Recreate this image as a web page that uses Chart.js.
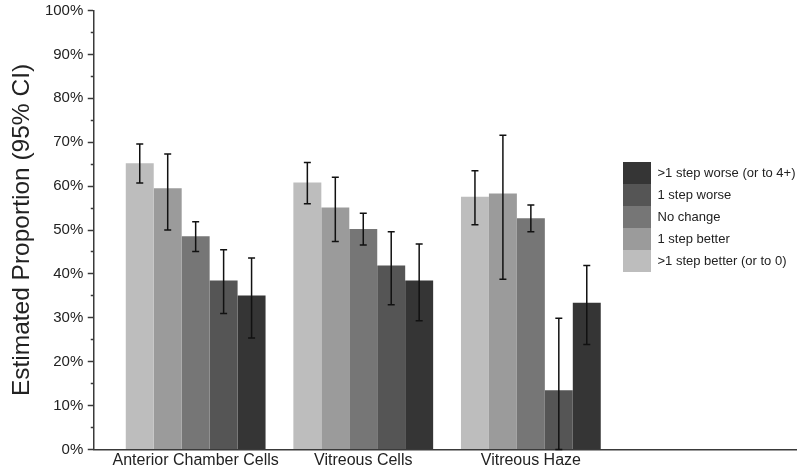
<!DOCTYPE html>
<html>
<head>
<meta charset="utf-8">
<script src="https://cdn.jsdelivr.net/npm/chart.js@4"></script>
<style>
  body { margin: 0; background: #fff; }
  #wrap { width: 800px; height: 468px; }
</style>
</head>
<body>
<div id="wrap"><canvas id="chart"></canvas></div>
<script>
// categories on the x axis
const categories = ['Anterior Chamber Cells', 'Vitreous Cells', 'Vitreous Haze'];

// series, lightest to darkest
const seriesNames = ['>1 step better (or to 0)', '1 step better', 'No change', '1 step worse', '>1 step worse (or to 4+)'];
const seriesColors = ['#bdbdbd', '#9b9b9b', '#767676', '#555555', '#353535'];

// estimated proportions (%)
const moreBetter = [65.2, 60.8, 57.6];
const oneBetter = [59.5, 55.1, 58.3];
const noChange = [48.6, 50.2, 52.7];
const oneWorse = [38.5, 41.9, 13.5];
const moreWorse = [35.1, 38.5, 33.4];

// 95% CI lower / upper
const moreBetterLo = [60.7, 56.0, 51.2];
const moreBetterHi = [69.6, 65.4, 63.5];
const oneBetterLo = [50.0, 47.4, 38.8];
const oneBetterHi = [67.3, 62.0, 71.6];
const noChangeLo = [45.1, 46.6, 49.6];
const noChangeHi = [51.9, 53.8, 55.7];
const oneWorseLo = [31.0, 33.0, 0];
const oneWorseHi = [45.5, 49.6, 29.9];
const moreWorseLo = [25.4, 29.3, 23.9];
const moreWorseHi = [43.6, 46.8, 41.9];

// y ticks every 5%, labels only on tens
const yTickStep = 5;

const values = [moreBetter, oneBetter, noChange, oneWorse, moreWorse];
const lows = [moreBetterLo, oneBetterLo, noChangeLo, oneWorseLo, moreWorseLo];
const highs = [moreBetterHi, oneBetterHi, noChangeHi, oneWorseHi, moreWorseHi];

Chart.defaults.font.family = '"Liberation Sans", Arial, sans-serif';
Chart.defaults.color = '#222';

const datasets = seriesNames.map((name, s) => ({
    label: name,
    data: categories.map((c, i) => ({ x: i, y: values[s][i] })),
    ciLow: lows[s],
    ciHigh: highs[s],
    backgroundColor: seriesColors[s],
    borderWidth: 0,
    categoryPercentage: 0.834,
    barPercentage: 1.0
}));

// whiskers for the confidence intervals
const errorBars = {
    id: 'errorBars',
    afterDatasetsDraw(chart) {
        const ctx = chart.ctx;
        const y = chart.scales.y;
        ctx.save();
        ctx.strokeStyle = '#111';
        ctx.lineWidth = 1.5;
        chart.data.datasets.forEach((ds, d) => {
            chart.getDatasetMeta(d).data.forEach((bar, i) => {
                const top = y.getPixelForValue(ds.ciHigh[i]);
                const bot = y.getPixelForValue(ds.ciLow[i]);
                const cap = 3.5;
                ctx.beginPath();
                ctx.moveTo(bar.x, top);
                ctx.lineTo(bar.x, bot);
                ctx.moveTo(bar.x - cap, top);
                ctx.lineTo(bar.x + cap, top);
                ctx.moveTo(bar.x - cap, bot);
                ctx.lineTo(bar.x + cap, bot);
                ctx.stroke();
            });
        });
        ctx.restore();
    }
};

// legend sits inside the plot, right of the last group
const legendSpot = {
    id: 'legendSpot',
    afterLayout(chart) {
        const lg = chart.legend;
        lg.left = 623;
        lg.top = 162;
        lg.right = lg.left + lg.width;
        lg.bottom = lg.top + lg.height;
    }
};

new Chart(document.getElementById('chart'), {
    type: 'bar',
    data: { datasets: datasets },
    plugins: [errorBars, legendSpot],
    options: {
        responsive: true,
        maintainAspectRatio: false,
        animation: false,
        layout: { padding: { left: 8, right: 4, top: 0, bottom: -4.5 } },
        plugins: {
            tooltip: { enabled: false },
            legend: {
                position: 'chartArea',
                align: 'start',
                reverse: true,
                labels: {
                    boxWidth: 28,
                    boxHeight: 22,
                    padding: 0,
                    color: '#222',
                    font: { size: 13 }
                }
            }
        },
        scales: {
            x: {
                type: 'linear',
                min: -0.608,
                max: 3.582,
                offset: false,
                afterBuildTicks: (scale) => {
                    scale.ticks = categories.map((c, i) => ({ value: i }));
                },
                grid: { display: false, drawTicks: false },
                border: { display: true, color: '#3a3a3a', width: 1.5 },
                ticks: {
                    maxRotation: 0,
                    autoSkip: false,
                    padding: 3.5,
                    color: '#222',
                    font: { size: 16, lineHeight: 1.0 },
                    callback: (v) => categories[v] ?? ''
                }
            },
            y: {
                min: 0,
                max: 100,
                grid: {
                    drawOnChartArea: false,
                    drawTicks: true,
                    tickLength: 6,
                    tickColor: '#3a3a3a',
                    tickWidth: 1.5,
                    tickBorderDash: (c) => (c.tick && c.tick.value % 10 !== 0 ? [0, 3, 3, 10] : [])
                },
                border: { display: true, color: '#3a3a3a', width: 1.5 },
                ticks: {
                    stepSize: yTickStep,
                    autoSkip: false,
                    padding: 4.5,
                    color: '#222',
                    font: { size: 15, lineHeight: 0.8 },
                    callback: (v) => (v % 10 === 0 ? v + '%' : '')
                },
                title: {
                    display: true,
                    text: 'Estimated Proportion (95% CI)',
                    color: '#222',
                    font: { size: 24.5 },
                    padding: { top: 0, bottom: 3 }
                }
            }
        }
    }
});
</script>
</body>
</html>
